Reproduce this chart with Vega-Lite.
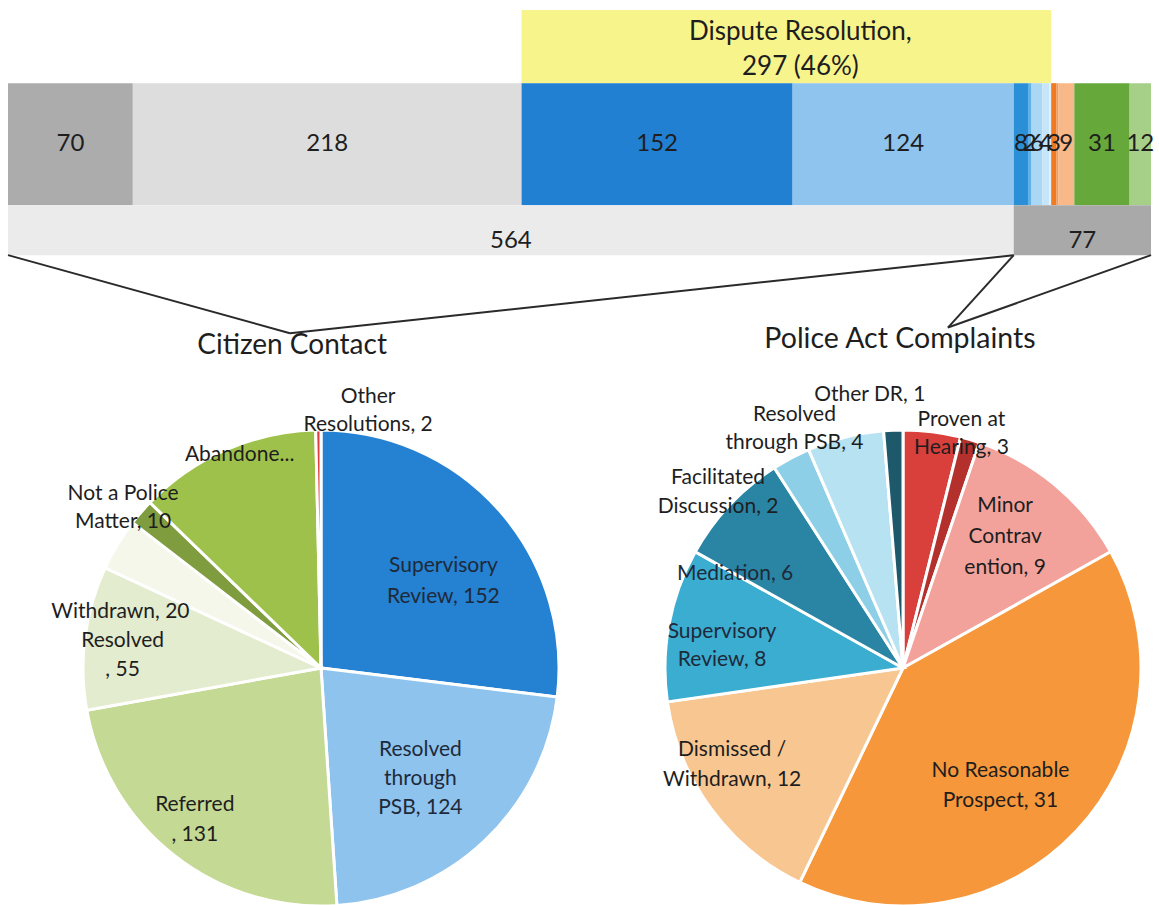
{
  "$schema": "https://vega.github.io/schema/vega-lite/v6.json",
  "padding": 0,
  "spacing": 0,
  "bounds": "flush",
  "resolve": {"scale": {"color": "independent", "theta": "independent"}},
  "config": {"view": {"stroke": null}, "font": "Lato"},
  "datasets": {
    "detail": [
      {"i": 1, "seg": "Abandoned", "n": 70, "dr": false, "label": "70"},
      {"i": 2, "seg": "Other Citizen Contact", "n": 218, "dr": false, "label": "218"},
      {"i": 3, "seg": "CC Supervisory Review", "n": 152, "dr": true, "label": "152"},
      {"i": 4, "seg": "CC Resolved through PSB", "n": 124, "dr": true, "label": "124"},
      {"i": 5, "seg": "PA Supervisory Review", "n": 8, "dr": true, "label": "8"},
      {"i": 6, "seg": "PA Facilitated Discussion", "n": 2, "dr": true, "label": "2"},
      {"i": 7, "seg": "PA Mediation", "n": 6, "dr": true, "label": "6"},
      {"i": 8, "seg": "PA Resolved through PSB", "n": 4, "dr": true, "label": "4"},
      {"i": 9, "seg": "PA Other DR", "n": 1, "dr": true, "label": ""},
      {"i": 10, "seg": "PA Proven at Hearing", "n": 3, "dr": false, "label": "3"},
      {"i": 11, "seg": "PA Other", "n": 1, "dr": false, "label": ""},
      {"i": 12, "seg": "PA Minor Contravention", "n": 9, "dr": false, "label": "9"},
      {"i": 13, "seg": "PA No Reasonable Prospect", "n": 31, "dr": false, "label": "31"},
      {"i": 14, "seg": "PA Dismissed / Withdrawn", "n": 12, "dr": false, "label": "12"}
    ],
    "totals": [
      {"i": 1, "grp": "Citizen Contact", "n": 564},
      {"i": 2, "grp": "Police Act Complaints", "n": 77}
    ],
    "cc": [
      {"i": 1, "cat": "Supervisory Review", "n": 152, "label": ["Supervisory", "Review, 152"]},
      {"i": 2, "cat": "Resolved through PSB", "n": 124, "label": ["Resolved", "through", "PSB, 124"]},
      {"i": 3, "cat": "Referred", "n": 131, "label": ["Referred", ", 131"]},
      {"i": 4, "cat": "Resolved", "n": 55, "label": ["Resolved", ", 55"]},
      {"i": 5, "cat": "Withdrawn", "n": 20, "label": ["Withdrawn, 20"]},
      {"i": 6, "cat": "Not a Police Matter", "n": 10, "label": ["Not a Police", "Matter, 10"]},
      {"i": 7, "cat": "Abandoned", "n": 70, "label": ["Abandone..."]},
      {"i": 8, "cat": "Other Resolutions", "n": 2, "label": ["Other", "Resolutions, 2"]}
    ],
    "pa": [
      {"i": 1, "cat": "Proven at Hearing", "n": 3, "label": ["Proven at", "Hearing, 3"]},
      {"i": 2, "cat": "Other", "n": 1, "label": [""]},
      {"i": 3, "cat": "Minor Contravention", "n": 9, "label": ["Minor", "Contrav", "ention, 9"]},
      {"i": 4, "cat": "No Reasonable Prospect", "n": 31, "label": ["No Reasonable", "Prospect, 31"]},
      {"i": 5, "cat": "Dismissed / Withdrawn", "n": 12, "label": ["Dismissed /", "Withdrawn, 12"]},
      {"i": 6, "cat": "Supervisory Review", "n": 8, "label": ["Supervisory", "Review, 8"]},
      {"i": 7, "cat": "Mediation", "n": 6, "label": ["Mediation, 6"]},
      {"i": 8, "cat": "Facilitated Discussion", "n": 2, "label": ["Facilitated", "Discussion, 2"]},
      {"i": 9, "cat": "Resolved through PSB", "n": 4, "label": ["Resolved", "through PSB, 4"]},
      {"i": 10, "cat": "Other DR", "n": 1, "label": ["Other DR, 1"]}
    ]
  },
  "vconcat": [
    {
      "width": 1159,
      "height": 431,
      "resolve": {"scale": {"color": "independent"}},
      "layer": [
        {
          "data": {"name": "detail"},
          "transform": [
            {"stack": "n", "groupby": [], "sort": [{"field": "i", "order": "ascending"}], "as": ["x0", "x1"]},
            {"filter": "datum.dr"},
            {"aggregate": [{"op": "min", "field": "x0", "as": "a"}, {"op": "max", "field": "x1", "as": "b"}]}
          ],
          "mark": {"type": "rect", "color": "#f8f48c"},
          "encoding": {
            "x": {"field": "a", "type": "quantitative", "scale": {"domain": [-4.49, 645.47], "nice": false, "zero": false}, "axis": null},
            "x2": {"field": "b"},
            "y": {"datum": 2.3, "type": "quantitative", "scale": {"domain": [0, 100], "reverse": true, "nice": false, "zero": false}, "axis": null},
            "y2": {"datum": 19.3}
          }
        },
        {
          "data": {"name": "detail"},
          "transform": [
            {"stack": "n", "groupby": [], "sort": [{"field": "i", "order": "ascending"}], "as": ["x0", "x1"]},
            {"filter": "datum.dr"},
            {"aggregate": [{"op": "min", "field": "x0", "as": "a"}, {"op": "max", "field": "x1", "as": "b"}]},
            {"calculate": "(datum.a + datum.b) / 2", "as": "m"}
          ],
          "mark": {"type": "text", "font": "Lato", "fontSize": 26, "lineHeight": 35, "align": "center", "baseline": "middle", "color": "#1e1e1e", "dx": 14},
          "encoding": {
            "x": {"field": "m", "type": "quantitative", "scale": {"domain": [-4.49, 645.47], "nice": false, "zero": false}, "axis": null},
            "y": {"datum": 7.4, "type": "quantitative", "scale": {"domain": [0, 100], "reverse": true, "nice": false, "zero": false}, "axis": null},
            "text": {"value": ["Dispute Resolution,", "297 (46%)"]}
          }
        },
        {
          "data": {"name": "detail"},
          "transform": [
            {"stack": "n", "groupby": [], "sort": [{"field": "i", "order": "ascending"}], "as": ["x0", "x1"]}
          ],
          "mark": {"type": "rect"},
          "encoding": {
            "x": {"field": "x0", "type": "quantitative", "scale": {"domain": [-4.49, 645.47], "nice": false, "zero": false}, "axis": null},
            "x2": {"field": "x1"},
            "y": {"datum": 19.3, "type": "quantitative", "scale": {"domain": [0, 100], "reverse": true, "nice": false, "zero": false}, "axis": null},
            "y2": {"datum": 47.6},
            "color": {
              "field": "seg", "type": "nominal", "legend": null,
              "scale": {
                "domain": ["Abandoned", "Other Citizen Contact", "CC Supervisory Review", "CC Resolved through PSB", "PA Supervisory Review", "PA Facilitated Discussion", "PA Mediation", "PA Resolved through PSB", "PA Other DR", "PA Proven at Hearing", "PA Other", "PA Minor Contravention", "PA No Reasonable Prospect", "PA Dismissed / Withdrawn"],
                "range": ["#acacac", "#dddddd", "#2280d2", "#8fc4ef", "#2b8fd8", "#62b2e7", "#a9d7f4", "#c6e5f8", "#e0f0fb", "#ef7a22", "#f49a55", "#f8b887", "#66a83a", "#a6cf88"]
              }
            }
          }
        },
        {
          "data": {"name": "detail"},
          "transform": [
            {"stack": "n", "groupby": [], "sort": [{"field": "i", "order": "ascending"}], "as": ["x0", "x1"]},
            {"calculate": "(datum.x0 + datum.x1) / 2", "as": "m"}
          ],
          "mark": {"type": "text", "font": "Lato", "fontSize": 24, "align": "center", "baseline": "middle", "color": "#1e1e1e"},
          "encoding": {
            "x": {"field": "m", "type": "quantitative", "scale": {"domain": [-4.49, 645.47], "nice": false, "zero": false}, "axis": null},
            "y": {"datum": 33.4, "type": "quantitative", "scale": {"domain": [0, 100], "reverse": true, "nice": false, "zero": false}, "axis": null},
            "text": {"field": "label"}
          }
        },
        {
          "data": {"name": "totals"},
          "transform": [
            {"stack": "n", "groupby": [], "sort": [{"field": "i", "order": "ascending"}], "as": ["x0", "x1"]}
          ],
          "mark": {"type": "rect"},
          "encoding": {
            "x": {"field": "x0", "type": "quantitative", "scale": {"domain": [-4.49, 645.47], "nice": false, "zero": false}, "axis": null},
            "x2": {"field": "x1"},
            "y": {"datum": 47.6, "type": "quantitative", "scale": {"domain": [0, 100], "reverse": true, "nice": false, "zero": false}, "axis": null},
            "y2": {"datum": 59.2},
            "color": {
              "field": "grp", "type": "nominal", "legend": null,
              "scale": {"domain": ["Citizen Contact", "Police Act Complaints"], "range": ["#ebebeb", "#a9a9a9"]}
            }
          }
        },
        {
          "data": {"name": "totals"},
          "transform": [
            {"stack": "n", "groupby": [], "sort": [{"field": "i", "order": "ascending"}], "as": ["x0", "x1"]},
            {"calculate": "(datum.x0 + datum.x1) / 2", "as": "m"}
          ],
          "mark": {"type": "text", "font": "Lato", "fontSize": 24, "align": "center", "baseline": "middle", "color": "#1e1e1e"},
          "encoding": {
            "x": {"field": "m", "type": "quantitative", "scale": {"domain": [-4.49, 645.47], "nice": false, "zero": false}, "axis": null},
            "y": {"datum": 55.9, "type": "quantitative", "scale": {"domain": [0, 100], "reverse": true, "nice": false, "zero": false}, "axis": null},
            "text": {"field": "n", "type": "quantitative"}
          }
        },
        {
          "data": {"name": "totals"},
          "transform": [
            {"stack": "n", "groupby": [], "sort": [{"field": "i", "order": "ascending"}], "as": ["x0", "x1"]},
            {"filter": "datum.grp === 'Citizen Contact'"}
          ],
          "layer": [
            {
              "mark": {"type": "rule", "color": "#2a2a2a", "strokeWidth": 2},
              "encoding": {
                "x": {"field": "x0", "type": "quantitative", "scale": {"domain": [-4.49, 645.47], "nice": false, "zero": false}, "axis": null},
                "y": {"datum": 59.2, "type": "quantitative", "scale": {"domain": [0, 100], "reverse": true, "nice": false, "zero": false}, "axis": null},
                "x2": {"datum": 158.1},
                "y2": {"datum": 77.3}
              }
            },
            {
              "mark": {"type": "rule", "color": "#2a2a2a", "strokeWidth": 2},
              "encoding": {
                "x": {"field": "x1", "type": "quantitative", "scale": {"domain": [-4.49, 645.47], "nice": false, "zero": false}, "axis": null},
                "y": {"datum": 59.2, "type": "quantitative", "scale": {"domain": [0, 100], "reverse": true, "nice": false, "zero": false}, "axis": null},
                "x2": {"datum": 158.1},
                "y2": {"datum": 77.3}
              }
            },
            {
              "mark": {"type": "text", "font": "Lato", "fontSize": 28, "align": "center", "baseline": "middle", "color": "#1e1e1e"},
              "encoding": {
                "x": {"datum": 159.3, "type": "quantitative", "scale": {"domain": [-4.49, 645.47], "nice": false, "zero": false}, "axis": null},
                "y": {"datum": 80.2, "type": "quantitative", "scale": {"domain": [0, 100], "reverse": true, "nice": false, "zero": false}, "axis": null},
                "text": {"field": "grp"}
              }
            }
          ]
        },
        {
          "data": {"name": "totals"},
          "transform": [
            {"stack": "n", "groupby": [], "sort": [{"field": "i", "order": "ascending"}], "as": ["x0", "x1"]},
            {"filter": "datum.grp === 'Police Act Complaints'"}
          ],
          "layer": [
            {
              "mark": {"type": "rule", "color": "#2a2a2a", "strokeWidth": 2},
              "encoding": {
                "x": {"field": "x0", "type": "quantitative", "scale": {"domain": [-4.49, 645.47], "nice": false, "zero": false}, "axis": null},
                "y": {"datum": 59.2, "type": "quantitative", "scale": {"domain": [0, 100], "reverse": true, "nice": false, "zero": false}, "axis": null},
                "x2": {"datum": 527.1},
                "y2": {"datum": 76.0}
              }
            },
            {
              "mark": {"type": "rule", "color": "#2a2a2a", "strokeWidth": 2},
              "encoding": {
                "x": {"field": "x1", "type": "quantitative", "scale": {"domain": [-4.49, 645.47], "nice": false, "zero": false}, "axis": null},
                "y": {"datum": 59.2, "type": "quantitative", "scale": {"domain": [0, 100], "reverse": true, "nice": false, "zero": false}, "axis": null},
                "x2": {"datum": 527.1},
                "y2": {"datum": 76.0}
              }
            },
            {
              "mark": {"type": "text", "font": "Lato", "fontSize": 28.5, "align": "center", "baseline": "middle", "color": "#1e1e1e"},
              "encoding": {
                "x": {"datum": 500.2, "type": "quantitative", "scale": {"domain": [-4.49, 645.47], "nice": false, "zero": false}, "axis": null},
                "y": {"datum": 78.6, "type": "quantitative", "scale": {"domain": [0, 100], "reverse": true, "nice": false, "zero": false}, "axis": null},
                "text": {"field": "grp"}
              }
            }
          ]
        }
      ]
    },
    {
      "resolve": {"scale": {"color": "independent", "theta": "independent"}},
      "hconcat": [
        {
          "width": 642,
          "height": 474,
          "data": {"name": "cc"},
          "transform": [
            {"stack": "n", "groupby": [], "sort": [{"field": "i", "order": "ascending"}], "as": ["t0", "t1"]},
            {"calculate": "(datum.t0 + datum.t1) / 2", "as": "tm"}
          ],
          "encoding": {
            "theta": {"field": "tm", "type": "quantitative", "stack": null, "scale": {"domain": [0, 564], "zero": true, "nice": false}},
            "text": {"field": "label"}
          },
          "layer": [
            {
              "mark": {"type": "arc", "outerRadius": 238, "stroke": "#ffffff", "strokeWidth": 3},
              "encoding": {
                "theta": {"field": "t0", "type": "quantitative", "stack": null, "scale": {"domain": [0, 564], "zero": true, "nice": false}},
                "theta2": {"field": "t1"},
                "text": null,
                "color": {
                  "field": "cat", "type": "nominal", "legend": null,
                  "scale": {
                    "domain": ["Supervisory Review", "Resolved through PSB", "Referred", "Resolved", "Withdrawn", "Not a Police Matter", "Abandoned", "Other Resolutions"],
                    "range": ["#2581d1", "#8ec3ee", "#c4d993", "#e3ecce", "#f4f7ea", "#7f9c3e", "#9ec14b", "#e03c3c"]
                  }
                }
              }
            },
            {"transform": [{"filter": "datum.cat === 'Supervisory Review'"}], "mark": {"type": "text", "font": "Lato", "fontSize": 21, "lineHeight": 31, "align": "center", "baseline": "middle", "color": "#1e2a3a", "radius": 150, "dx": 10, "dy": -3}},
            {"transform": [{"filter": "datum.cat === 'Resolved through PSB'"}], "mark": {"type": "text", "font": "Lato", "fontSize": 21, "lineHeight": 29, "align": "center", "baseline": "middle", "color": "#1e2a3a", "radius": 149, "dx": -3, "dy": -26}},
            {"transform": [{"filter": "datum.cat === 'Referred'"}], "mark": {"type": "text", "font": "Lato", "fontSize": 21, "lineHeight": 30, "align": "center", "baseline": "middle", "color": "#1e1e1e", "radius": 197, "dx": -5, "dy": -18}},
            {"transform": [{"filter": "datum.cat === 'Resolved'"}], "mark": {"type": "text", "font": "Lato", "fontSize": 21, "lineHeight": 29, "align": "center", "baseline": "middle", "color": "#1e1e1e", "radius": 198, "dx": -2, "dy": -2}},
            {"transform": [{"filter": "datum.cat === 'Withdrawn'"}], "mark": {"type": "text", "font": "Lato", "fontSize": 21, "align": "center", "baseline": "middle", "color": "#1e1e1e", "radius": 209, "dx": -22, "dy": 53}},
            {"transform": [{"filter": "datum.cat === 'Not a Police Matter'"}], "mark": {"type": "text", "font": "Lato", "fontSize": 21, "lineHeight": 28, "align": "center", "baseline": "middle", "color": "#1e1e1e", "radius": 255, "dx": -5, "dy": -7}},
            {"transform": [{"filter": "datum.cat === 'Abandoned'"}], "mark": {"type": "text", "font": "Lato", "fontSize": 21, "align": "center", "baseline": "middle", "color": "#1e1e1e", "radius": 228, "dx": 10, "dy": -4}},
            {"transform": [{"filter": "datum.cat === 'Other Resolutions'"}], "mark": {"type": "text", "font": "Lato", "fontSize": 21, "lineHeight": 28, "align": "center", "baseline": "middle", "color": "#1e1e1e", "radius": 261, "dx": 50, "dy": -10}}
          ]
        },
        {
          "width": 512,
          "height": 474,
          "data": {"name": "pa"},
          "transform": [
            {"stack": "n", "groupby": [], "sort": [{"field": "i", "order": "ascending"}], "as": ["t0", "t1"]},
            {"calculate": "(datum.t0 + datum.t1) / 2", "as": "tm"}
          ],
          "encoding": {
            "theta": {"field": "tm", "type": "quantitative", "stack": null, "scale": {"domain": [0, 77], "zero": true, "nice": false}},
            "text": {"field": "label"}
          },
          "layer": [
            {
              "mark": {"type": "arc", "outerRadius": 238, "stroke": "#ffffff", "strokeWidth": 3},
              "encoding": {
                "theta": {"field": "t0", "type": "quantitative", "stack": null, "scale": {"domain": [0, 77], "zero": true, "nice": false}},
                "theta2": {"field": "t1"},
                "text": null,
                "color": {
                  "field": "cat", "type": "nominal", "legend": null,
                  "scale": {
                    "domain": ["Proven at Hearing", "Other", "Minor Contravention", "No Reasonable Prospect", "Dismissed / Withdrawn", "Supervisory Review", "Mediation", "Facilitated Discussion", "Resolved through PSB", "Other DR"],
                    "range": ["#d9403c", "#b3302d", "#f2a29b", "#f5973a", "#f8c791", "#3badd0", "#2a85a5", "#8ccfe6", "#b7e2f2", "#1d586b"]
                  }
                }
              }
            },
            {"transform": [{"filter": "datum.cat === 'Proven at Hearing'"}], "mark": {"type": "text", "font": "Lato", "fontSize": 21, "lineHeight": 28, "align": "center", "baseline": "middle", "color": "#1e1e1e", "radius": 241, "dx": 29, "dy": -9}},
            {"transform": [{"filter": "datum.cat === 'Minor Contravention'"}], "mark": {"type": "text", "font": "Lato", "fontSize": 21, "lineHeight": 31, "align": "center", "baseline": "middle", "color": "#1e1e1e", "radius": 166, "dx": -4, "dy": -34}},
            {"transform": [{"filter": "datum.cat === 'No Reasonable Prospect'"}], "mark": {"type": "text", "font": "Lato", "fontSize": 21, "lineHeight": 30, "align": "center", "baseline": "middle", "color": "#1e1e1e", "radius": 153, "dx": -14, "dy": -2}},
            {"transform": [{"filter": "datum.cat === 'Dismissed / Withdrawn'"}], "mark": {"type": "text", "font": "Lato", "fontSize": 21, "lineHeight": 30, "align": "center", "baseline": "middle", "color": "#1e1e1e", "radius": 197, "dx": -12, "dy": -34}},
            {"transform": [{"filter": "datum.cat === 'Supervisory Review'"}], "mark": {"type": "text", "font": "Lato", "fontSize": 21, "lineHeight": 28, "align": "center", "baseline": "middle", "color": "#1e2a3a", "radius": 182, "dx": -2, "dy": -3}},
            {"transform": [{"filter": "datum.cat === 'Mediation'"}], "mark": {"type": "text", "font": "Lato", "fontSize": 21, "align": "center", "baseline": "middle", "color": "#1e2a3a", "radius": 192, "dx": -28, "dy": 38}},
            {"transform": [{"filter": "datum.cat === 'Facilitated Discussion'"}], "mark": {"type": "text", "font": "Lato", "fontSize": 21, "lineHeight": 29, "align": "center", "baseline": "middle", "color": "#1e1e1e", "radius": 255, "dx": -65, "dy": 35}},
            {"transform": [{"filter": "datum.cat === 'Resolved through PSB'"}], "mark": {"type": "text", "font": "Lato", "fontSize": 21, "lineHeight": 28, "align": "center", "baseline": "middle", "color": "#1e1e1e", "radius": 262, "dx": -45, "dy": 1}},
            {"transform": [{"filter": "datum.cat === 'Other DR'"}], "mark": {"type": "text", "font": "Lato", "fontSize": 21, "align": "center", "baseline": "middle", "color": "#1e1e1e", "radius": 275, "dx": -22, "dy": 2}}
          ]
        }
      ],
      "spacing": 5
    }
  ]
}
